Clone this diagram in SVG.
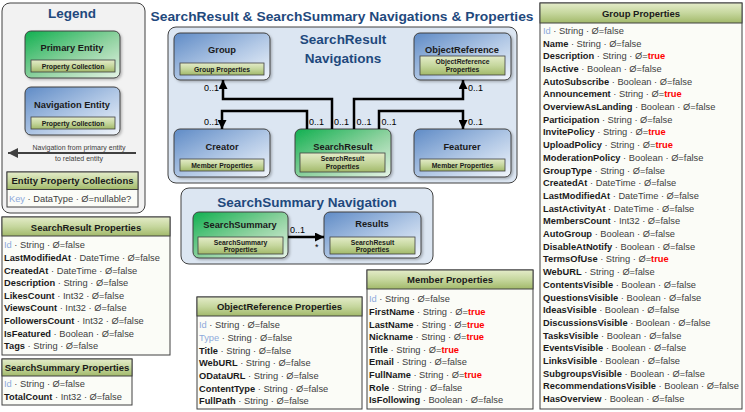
<svg xmlns="http://www.w3.org/2000/svg" width="745" height="412" viewBox="0 0 745 412">
<defs>
<linearGradient id="blue" x1="0" y1="0" x2="1" y2="1"><stop offset="0" stop-color="#5f8bc6"/><stop offset="0.55" stop-color="#b3c9e6"/><stop offset="1" stop-color="#f2f6fb"/></linearGradient>
<linearGradient id="green" x1="0" y1="0" x2="1" y2="1"><stop offset="0" stop-color="#10b050"/><stop offset="0.55" stop-color="#92d3a2"/><stop offset="1" stop-color="#e6f4e6"/></linearGradient>
<linearGradient id="olive" x1="0" y1="0" x2="0" y2="1"><stop offset="0" stop-color="#e4ecc9"/><stop offset="0.5" stop-color="#c6d79e"/><stop offset="1" stop-color="#a2b96a"/></linearGradient>
<filter id="sh" x="-10%" y="-10%" width="130%" height="130%"><feDropShadow dx="1.5" dy="1.5" stdDeviation="1" flood-color="#000" flood-opacity="0.25"/></filter>
<marker id="ah" viewBox="0 0 10 10" refX="10" refY="5" markerWidth="9" markerHeight="9" markerUnits="userSpaceOnUse" orient="auto"><path d="M0,0 L10,5 L0,10 Z" fill="#000"/></marker>
<marker id="ahg" viewBox="0 0 10 10" refX="10" refY="5" markerWidth="10" markerHeight="10" markerUnits="userSpaceOnUse" orient="auto"><path d="M0,0 L10,5 L0,10 Z" fill="#404040"/></marker>
</defs>
<style>
text{font-family:"Liberation Sans",Arial,sans-serif}
.row{font-size:9.3px;fill:#404040}
.k{font-weight:bold;fill:#1a1a1a}
.key{fill:#8eaadb}
.tr{fill:#ff0000;font-weight:bold}
.hdr{font-size:9.5px;font-weight:bold;fill:#1a1a1a;text-anchor:middle}
.tbl{fill:#fbfcf7;stroke:#404040;stroke-width:1}
.th{fill:url(#olive);stroke:#404040;stroke-width:1}
.nb{fill:url(#blue);stroke:#404040;stroke-width:1;filter:url(#sh)}
.ng{fill:url(#green);stroke:#404040;stroke-width:1;filter:url(#sh)}
.nt{font-size:9.3px;font-weight:bold;fill:#1a1a1a;text-anchor:middle}
.bar{fill:url(#olive);stroke:#404040;stroke-width:0.8}
.bt{font-size:6.8px;font-weight:bold;fill:#1a1a1a;text-anchor:middle}
.big{font-size:13.5px;font-weight:bold;fill:#1f497d;text-anchor:middle}
.cont{fill:#dce6f2;stroke:#404040;stroke-width:1}
.conn{fill:none;stroke:#000;stroke-width:2.5}
.lbl{font-size:9px;fill:#000}
</style>

<text class="big" x="342" y="21" textLength="383" lengthAdjust="spacingAndGlyphs">SearchResult &amp; SearchSummary Navigations &amp; Properties</text>

<g id="legend">
<rect x="2" y="3" width="143" height="210" rx="8" fill="#f2f2f2" stroke="#404040"/>
<text class="big" x="72" y="18">Legend</text>
<rect class="ng" x="25" y="31" width="95" height="47" rx="6"/>
<text class="nt" x="72" y="51">Primary Entity</text>
<rect class="bar" x="31" y="60" width="84" height="12"/>
<text class="bt" x="73" y="68.5">Property Collection</text>
<rect class="nb" x="25" y="87" width="95" height="48" rx="6"/>
<text class="nt" x="72" y="108">Navigation Entity</text>
<rect class="bar" x="31" y="117" width="84" height="12"/>
<text class="bt" x="73" y="125.5">Property Collection</text>
<line x1="136" y1="153" x2="8" y2="153" stroke="#404040" stroke-width="2" marker-end="url(#ahg)"/>
<text x="79" y="150" font-size="7px" fill="#404040" text-anchor="middle">Navigation from primary entity</text>
<text x="79" y="160.5" font-size="7px" fill="#404040" text-anchor="middle">to related entity</text>
<rect class="tbl" x="7" y="172" width="131" height="35"/>
<rect class="th" x="7" y="172" width="131" height="17.5"/>
<text class="hdr" x="72.5" y="184">Entity Property Collections</text>
<text class="row" x="9" y="201.5" font-size="9.4px"><tspan class="key">Key</tspan> · DataType · Ø=nullable?</text>
</g>

<g id="searchresult-navigations">
<rect class="cont" x="168" y="27" width="349" height="156" rx="8"/>
<text class="big" x="343" y="44">SearchResult</text>
<text class="big" x="343" y="63">Navigations</text>
</g>

<g id="node-group">
<rect class="nb" x="174" y="33" width="96" height="47" rx="6"/>
<text class="nt" x="222" y="53">Group</text>
<rect class="bar" x="180" y="63" width="84" height="12"/>
<text class="bt" x="222" y="71.5">Group Properties</text>
</g>
<g id="node-objectreference">
<rect class="nb" x="414" y="33" width="97" height="47" rx="6"/>
<text class="nt" x="462" y="53">ObjectReference</text>
<rect class="bar" x="420" y="56" width="85" height="19"/>
<text class="bt" x="462.5" y="64">ObjectReference</text>
<text class="bt" x="462.5" y="72">Properties</text>
</g>
<g id="node-creator">
<rect class="nb" x="174" y="129" width="96" height="48" rx="6"/>
<text class="nt" x="222" y="150">Creator</text>
<rect class="bar" x="180" y="159" width="84" height="12"/>
<text class="bt" x="222" y="167.5">Member Properties</text>
</g>
<g id="node-searchresult">
<rect class="ng" x="295" y="129" width="96" height="48" rx="6"/>
<text class="nt" x="343" y="150">SearchResult</text>
<rect class="bar" x="300" y="153" width="85" height="19"/>
<text class="bt" x="342.5" y="161">SearchResult</text>
<text class="bt" x="342.5" y="169">Properties</text>
</g>
<g id="node-featurer">
<rect class="nb" x="414" y="129" width="97" height="48" rx="6"/>
<text class="nt" x="462" y="150">Featurer</text>
<rect class="bar" x="420" y="159" width="85" height="12"/>
<text class="bt" x="462.5" y="167.5">Member Properties</text>
</g>

<g id="searchsummary-navigation">
<rect class="cont" x="181" y="188" width="252" height="76" rx="8"/>
<text class="big" x="307" y="207">SearchSummary Navigation</text>
</g>
<g id="node-searchsummary">
<rect class="ng" x="193" y="212" width="95" height="46" rx="6"/>
<text class="nt" x="240" y="227.5">SearchSummary</text>
<rect class="bar" x="198" y="237" width="85" height="17"/>
<text class="bt" x="240.5" y="244.5">SearchSummary</text>
<text class="bt" x="240.5" y="252">Properties</text>
</g>
<g id="node-results">
<rect class="nb" x="324" y="212" width="97" height="46" rx="6"/>
<text class="nt" x="372" y="226.5">Results</text>
<rect class="bar" x="330" y="237" width="85" height="17"/>
<text class="bt" x="372.5" y="244.5">SearchResult</text>
<text class="bt" x="372.5" y="252">Properties</text>
</g>

<g id="connectors">
<path class="conn" d="M332,129 V99 H223 V80" marker-end="url(#ah)"/>
<path class="conn" d="M307,129 V111 H222 V129" marker-end="url(#ah)"/>
<path class="conn" d="M354,129 V99 H463 V80" marker-end="url(#ah)"/>
<path class="conn" d="M379,129 V111 H463 V129" marker-end="url(#ah)"/>
<path class="conn" d="M288,237 H324" marker-end="url(#ah)"/>
<text class="lbl" x="219" y="91" text-anchor="end">0..1</text>
<text class="lbl" x="468" y="91">0..1</text>
<text class="lbl" x="219" y="125" text-anchor="end">0..1</text>
<text class="lbl" x="468" y="125">0..1</text>
<text class="lbl" x="309" y="125">0..1</text>
<text class="lbl" x="334" y="125">0..1</text>
<text class="lbl" x="356.5" y="125">0..1</text>
<text class="lbl" x="381.5" y="125">0..1</text>
<text class="lbl" x="290" y="233">0..1</text>
<text class="lbl" x="315" y="250">*</text>
</g>

<g id="searchresult-properties">
<rect class="tbl" x="2" y="217" width="168" height="138"/>
<rect class="th" x="2" y="217" width="168" height="19"/>
<text class="hdr" x="86" y="230.5">SearchResult Properties</text>
<text class="row" x="4" y="248.3"><tspan class="key">Id</tspan> · String · Ø=false</text>
<text class="row" x="4" y="260.9"><tspan class="k">LastModifiedAt</tspan> · DateTime · Ø=false</text>
<text class="row" x="4" y="273.5"><tspan class="k">CreatedAt</tspan> · DateTime · Ø=false</text>
<text class="row" x="4" y="286.1"><tspan class="k">Description</tspan> · String · Ø=false</text>
<text class="row" x="4" y="298.7"><tspan class="k">LikesCount</tspan> · Int32 · Ø=false</text>
<text class="row" x="4" y="311.3"><tspan class="k">ViewsCount</tspan> · Int32 · Ø=false</text>
<text class="row" x="4" y="323.9"><tspan class="k">FollowersCount</tspan> · Int32 · Ø=false</text>
<text class="row" x="4" y="336.5"><tspan class="k">IsFeatured</tspan> · Boolean · Ø=false</text>
<text class="row" x="4" y="349.1"><tspan class="k">Tags</tspan> · String · Ø=false</text>
</g>

<g id="searchsummary-properties">
<rect class="tbl" x="2" y="359" width="130" height="46"/>
<rect class="th" x="2" y="359" width="130" height="17"/>
<text class="hdr" x="67" y="371">SearchSummary Properties</text>
<text class="row" x="4" y="387"><tspan class="key">Id</tspan> · String · Ø=false</text>
<text class="row" x="4" y="399.6"><tspan class="k">TotalCount</tspan> · Int32 · Ø=false</text>
</g>

<g id="objectreference-properties">
<rect class="tbl" x="197" y="297" width="165" height="112"/>
<rect class="th" x="197" y="297" width="165" height="19"/>
<text class="hdr" x="279.5" y="310">ObjectReference Properties</text>
<text class="row" x="199" y="328.3"><tspan class="key">Id</tspan> · String · Ø=false</text>
<text class="row" x="199" y="341"><tspan class="key">Type</tspan> · String · Ø=false</text>
<text class="row" x="199" y="353.6"><tspan class="k">Title</tspan> · String · Ø=false</text>
<text class="row" x="199" y="366.3"><tspan class="k">WebURL</tspan> · String · Ø=false</text>
<text class="row" x="199" y="378.9"><tspan class="k">ODataURL</tspan> · String · Ø=false</text>
<text class="row" x="199" y="391.6"><tspan class="k">ContentType</tspan> · String · Ø=false</text>
<text class="row" x="199" y="404.2"><tspan class="k">FullPath</tspan> · String · Ø=false</text>
</g>

<g id="member-properties">
<rect class="tbl" x="367" y="270" width="166" height="139"/>
<rect class="th" x="367" y="270" width="166" height="19"/>
<text class="hdr" x="450" y="283">Member Properties</text>
<text class="row" x="369" y="302.3"><tspan class="key">Id</tspan> · String · Ø=false</text>
<text class="row" x="369" y="314.9"><tspan class="k">FirstName</tspan> · String · Ø=<tspan class="tr">true</tspan></text>
<text class="row" x="369" y="327.5"><tspan class="k">LastName</tspan> · String · Ø=<tspan class="tr">true</tspan></text>
<text class="row" x="369" y="340.1"><tspan class="k">Nickname</tspan> · String · Ø=<tspan class="tr">true</tspan></text>
<text class="row" x="369" y="352.7"><tspan class="k">Title</tspan> · String · Ø=<tspan class="tr">true</tspan></text>
<text class="row" x="369" y="365.3"><tspan class="k">Email</tspan> · String · Ø=false</text>
<text class="row" x="369" y="377.9"><tspan class="k">FullName</tspan> · String · Ø=<tspan class="tr">true</tspan></text>
<text class="row" x="369" y="390.5"><tspan class="k">Role</tspan> · String · Ø=false</text>
<text class="row" x="369" y="403.1"><tspan class="k">IsFollowing</tspan> · Boolean · Ø=false</text>
</g>

<g id="group-properties">
<rect class="tbl" x="540" y="3" width="202" height="406"/>
<rect class="th" x="540" y="3" width="202" height="20"/>
<text class="hdr" x="641" y="16.5">Group Properties</text>
<text class="row" x="543" y="33.8"><tspan class="key">Id</tspan> · String · Ø=false</text>
<text class="row" x="543" y="46.5"><tspan class="k">Name</tspan> · String · Ø=false</text>
<text class="row" x="543" y="59.2"><tspan class="k">Description</tspan> · String · Ø=<tspan class="tr">true</tspan></text>
<text class="row" x="543" y="71.9"><tspan class="k">IsActive</tspan> · Boolean · Ø=false</text>
<text class="row" x="543" y="84.6"><tspan class="k">AutoSubscribe</tspan> · Boolean · Ø=false</text>
<text class="row" x="543" y="97.3"><tspan class="k">Announcement</tspan> · String · Ø=<tspan class="tr">true</tspan></text>
<text class="row" x="543" y="110"><tspan class="k">OverviewAsLanding</tspan> · Boolean · Ø=false</text>
<text class="row" x="543" y="122.7"><tspan class="k">Participation</tspan> · String · Ø=false</text>
<text class="row" x="543" y="135.4"><tspan class="k">InvitePolicy</tspan> · String · Ø=<tspan class="tr">true</tspan></text>
<text class="row" x="543" y="148.1"><tspan class="k">UploadPolicy</tspan> · String · Ø=<tspan class="tr">true</tspan></text>
<text class="row" x="543" y="160.8"><tspan class="k">ModerationPolicy</tspan> · Boolean · Ø=false</text>
<text class="row" x="543" y="173.5"><tspan class="k">GroupType</tspan> · String · Ø=false</text>
<text class="row" x="543" y="186.2"><tspan class="k">CreatedAt</tspan> · DateTime · Ø=false</text>
<text class="row" x="543" y="198.9"><tspan class="k">LastModifiedAt</tspan> · DateTime · Ø=false</text>
<text class="row" x="543" y="211.6"><tspan class="k">LastActivityAt</tspan> · DateTime · Ø=false</text>
<text class="row" x="543" y="224.3"><tspan class="k">MembersCount</tspan> · Int32 · Ø=false</text>
<text class="row" x="543" y="237"><tspan class="k">AutoGroup</tspan> · Boolean · Ø=false</text>
<text class="row" x="543" y="249.7"><tspan class="k">DisableAtNotify</tspan> · Boolean · Ø=false</text>
<text class="row" x="543" y="262.4"><tspan class="k">TermsOfUse</tspan> · String · Ø=<tspan class="tr">true</tspan></text>
<text class="row" x="543" y="275.1"><tspan class="k">WebURL</tspan> · String · Ø=false</text>
<text class="row" x="543" y="287.8"><tspan class="k">ContentsVisible</tspan> · Boolean · Ø=false</text>
<text class="row" x="543" y="300.5"><tspan class="k">QuestionsVisible</tspan> · Boolean · Ø=false</text>
<text class="row" x="543" y="313.2"><tspan class="k">IdeasVisible</tspan> · Boolean · Ø=false</text>
<text class="row" x="543" y="325.9"><tspan class="k">DiscussionsVisible</tspan> · Boolean · Ø=false</text>
<text class="row" x="543" y="338.6"><tspan class="k">TasksVisible</tspan> · Boolean · Ø=false</text>
<text class="row" x="543" y="351.3"><tspan class="k">EventsVisible</tspan> · Boolean · Ø=false</text>
<text class="row" x="543" y="364"><tspan class="k">LinksVisible</tspan> · Boolean · Ø=false</text>
<text class="row" x="543" y="376.7"><tspan class="k">SubgroupsVisible</tspan> · Boolean · Ø=false</text>
<text class="row" x="543" y="389.4"><tspan class="k">RecommendationsVisible</tspan> · Boolean · Ø=false</text>
<text class="row" x="543" y="402.1"><tspan class="k">HasOverview</tspan> · Boolean · Ø=false</text>
</g>
</svg>
